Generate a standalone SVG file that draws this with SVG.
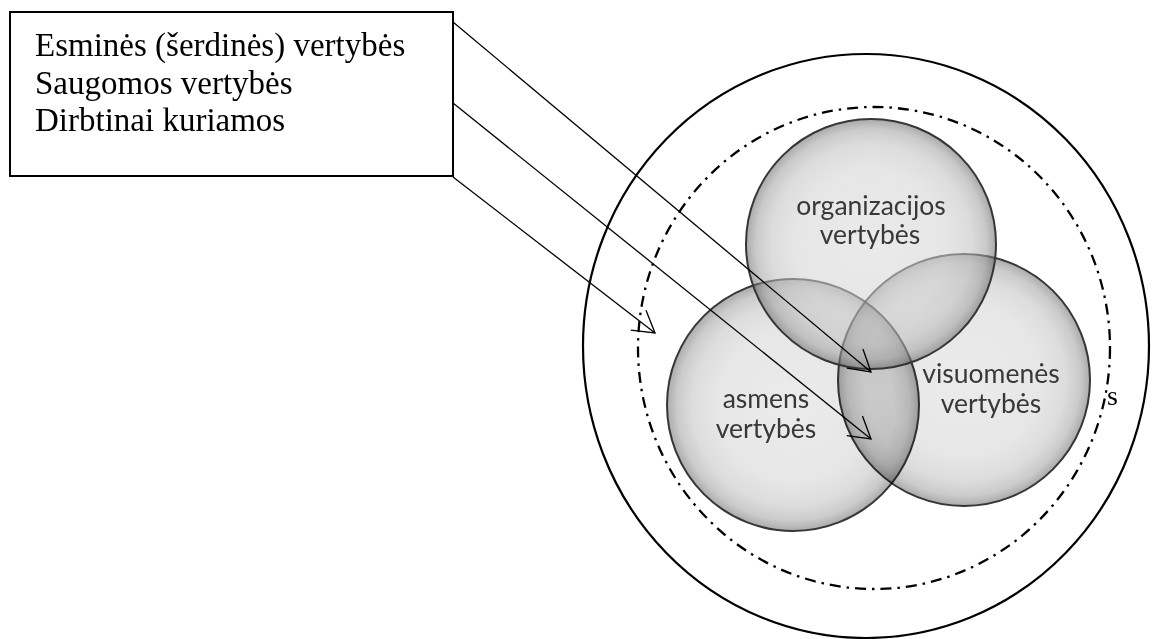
<svg xmlns="http://www.w3.org/2000/svg" width="1156" height="639" viewBox="0 0 1156 639">
  <style>
    .box { fill: #fff; stroke: #000; stroke-width: 2; }
    .boxtxt { font-family: "Liberation Serif", "Times New Roman", serif; font-size: 33px; fill: #000; }
    .ring { fill: none; stroke: #000; stroke-width: 2.2; }
    .dashring { fill: none; stroke: #000; stroke-width: 2.3; stroke-dasharray: 11 6 2.5 6; }
    .venn { stroke: #363636; stroke-width: 2; }
    .vtxt { font-family: Lato, "Open Sans", "Liberation Sans", sans-serif; font-size: 26.5px; fill: #383838; text-anchor: middle; }
    .conn { fill: none; stroke: #000; stroke-width: 1.3; }
    .mult { mix-blend-mode: multiply; }
  </style>
  <defs>
    <radialGradient id="gOpaque" cx="50%" cy="50%" r="50%">
      <stop offset="0" stop-color="#ebebeb"/>
      <stop offset="0.6" stop-color="#e7e7e7"/>
      <stop offset="0.8" stop-color="#dddddd"/>
      <stop offset="0.92" stop-color="#cbcbcb"/>
      <stop offset="1" stop-color="#ababab"/>
    </radialGradient>
    <radialGradient id="gAlpha" cx="50%" cy="50%" r="50%">
      <stop offset="0" stop-color="#d9d9d9" stop-opacity="0.55"/>
      <stop offset="0.6" stop-color="#d2d2d2" stop-opacity="0.55"/>
      <stop offset="0.8" stop-color="#c0c0c0" stop-opacity="0.55"/>
      <stop offset="0.92" stop-color="#9f9f9f" stop-opacity="0.55"/>
      <stop offset="1" stop-color="#636363" stop-opacity="0.55"/>
    </radialGradient>
    <marker id="arr" markerUnits="userSpaceOnUse" markerWidth="30" markerHeight="30" viewBox="-26 -15 30 30" refX="0" refY="0" orient="auto" overflow="visible">
      <path d="M-21,-12.5 L0,0 L-21,12.5" fill="none" stroke="#000" stroke-width="1.3"/>
    </marker>
  </defs>

  <rect x="0" y="0" width="1156" height="639" fill="#fff"/>

  <g id="legend-box">
    <rect class="box" x="10" y="12" width="443" height="164"/>
    <text class="boxtxt" x="35" y="56">Esminės (šerdinės) vertybės</text>
    <text class="boxtxt" x="35" y="93.5">Saugomos vertybės</text>
    <text class="boxtxt" x="35" y="131">Dirbtinai kuriamos</text>
  </g>

  <g id="outer-circle">
    <ellipse class="ring" cx="866" cy="346" rx="283" ry="292"/>
  </g>

  <g id="dashdot-circle">
    <ellipse class="dashring" cx="874" cy="348" rx="236" ry="241"/>
  </g>

  <g id="asmens" class="mult">
    <circle class="venn" cx="793" cy="405" r="126" fill="url(#gOpaque)"/>
    <text class="vtxt" x="766" y="408">asmens</text>
    <text class="vtxt" x="766" y="438">vertybės</text>
  </g>

  <g id="visuomenes" class="mult">
    <circle class="venn" cx="964" cy="380" r="126" fill="url(#gOpaque)"/>
    <text class="vtxt" x="991" y="383">visuomenės</text>
    <text class="vtxt" x="991" y="413">vertybės</text>
  </g>

  <g id="organizacijos">
    <circle class="venn" cx="871" cy="244" r="125" fill="url(#gAlpha)"/>
    <text class="vtxt" x="871" y="215">organizacijos</text>
    <text class="vtxt" x="870" y="244">vertybės</text>
  </g>

  <g id="s-label">
    <text class="boxtxt" x="1107" y="405" style="font-size:28px">s</text>
  </g>

  <g id="connectors">
    <line class="conn" x1="453" y1="22" x2="871" y2="372" marker-end="url(#arr)"/>
    <line class="conn" x1="453" y1="103" x2="871" y2="439" marker-end="url(#arr)"/>
    <line class="conn" x1="453" y1="177" x2="655" y2="333" marker-end="url(#arr)"/>
  </g>
</svg>
